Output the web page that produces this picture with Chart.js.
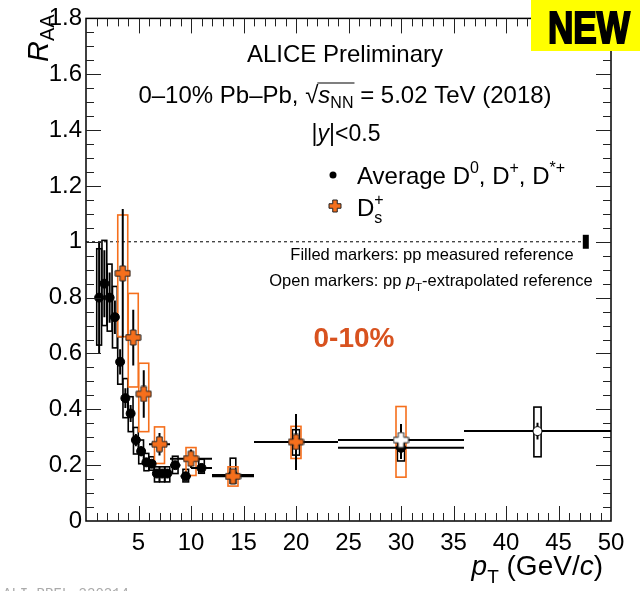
<!DOCTYPE html>
<html>
<head>
<meta charset="utf-8">
<script src="https://cdn.jsdelivr.net/npm/chart.js@4.4.0/dist/chart.umd.min.js"></script>
<style>
  html, body { margin: 0; padding: 0; background: #fff; }
  canvas { display: block; }
</style>
</head>
<body>
<canvas id="raa" width="640" height="591"></canvas>
<script>
// Average D0, D+, D*+ : pT bins, R_AA, stat. errors, syst. boxes
const dPtLow  = [1, 1.5, 2, 2.5, 3, 3.5, 4, 4.5, 5, 5.5, 6, 6.5, 7, 7.5, 8, 9, 10, 12, 16, 24, 36];
const dPtHigh = [1.5, 2, 2.5, 3, 3.5, 4, 4.5, 5, 5.5, 6, 6.5, 7, 7.5, 8, 9, 10, 12, 16, 24, 36, 50];
const dRaa    = [0.80, 0.85, 0.80, 0.73, 0.57, 0.44, 0.385, 0.29, 0.25, 0.21, 0.205, 0.17, 0.17, 0.17, 0.20, 0.16, 0.19, 0.165, 0.283, 0.262, 0.322];
const dStat   = [0.20, 0.12, 0.09, 0.06, 0.045, 0.035, 0.03, 0.022, 0.018, 0.015, 0.015, 0.012, 0.012, 0.012, 0.014, 0.014, 0.016, 0.02, 0.04, 0.04, 0.03];
const dSystLo = [0.63, 0.70, 0.68, 0.62, 0.49, 0.37, 0.32, 0.24, 0.205, 0.18, 0.182, 0.14, 0.14, 0.14, 0.17, 0.14, 0.171, 0.135, 0.236, 0.215, 0.23];
const dSystHi = [0.975, 1.005, 0.92, 0.84, 0.66, 0.51, 0.445, 0.335, 0.29, 0.242, 0.23, 0.194, 0.194, 0.194, 0.232, 0.185, 0.221, 0.225, 0.327, 0.28, 0.408];
const dOpen   = [false, false, false, false, false, false, false, false, false, false, false, false, false, false, false, false, false, false, false, false, true];

// Ds+
const dsPtLow  = [3, 4, 5, 6, 8, 12, 16, 24];
const dsPtHigh = [4, 5, 6, 8, 12, 16, 24, 36];
const dsRaa    = [0.887, 0.657, 0.455, 0.275, 0.223, 0.16, 0.283, 0.29];
const dsStat   = [0.23, 0.10, 0.085, 0.04, 0.033, 0.025, 0.10, 0.057];
const dsSystLo = [0.66, 0.48, 0.32, 0.206, 0.163, 0.125, 0.224, 0.157];
const dsSystHi = [1.096, 0.815, 0.565, 0.337, 0.263, 0.194, 0.339, 0.41];
const dsOpen   = [false, false, false, false, false, false, false, true];

// normalisation uncertainty at unity
const normUnc = 0.025;

const xTickValues = [5, 10, 15, 20, 25, 30, 35, 40, 45, 50];
const yTickValues = [0, 0.2, 0.4, 0.6, 0.8, 1, 1.2, 1.4, 1.6, 1.8];

const FAMILY = "'Liberation Sans', Arial, Helvetica, sans-serif";
const ORANGE = '#f56f1c';

function plusMarker(fill, size) {
  const c = document.createElement('canvas');
  c.width = size; c.height = size;
  const g = c.getContext('2d');
  const m = size / 2, b = m - 1, a = size * 0.16;
  g.beginPath();
  g.moveTo(m - a, m - b); g.lineTo(m + a, m - b); g.lineTo(m + a, m - a); g.lineTo(m + b, m - a);
  g.lineTo(m + b, m + a); g.lineTo(m + a, m + a); g.lineTo(m + a, m + b); g.lineTo(m - a, m + b);
  g.lineTo(m - a, m + a); g.lineTo(m - b, m + a); g.lineTo(m - b, m - a); g.lineTo(m - a, m - a);
  g.closePath();
  g.fillStyle = fill; g.fill();
  g.strokeStyle = '#222'; g.lineWidth = 1; g.stroke();
  return c;
}

const dsFilled = plusMarker(ORANGE, 17);
const dsHollow = plusMarker('#fff', 17);
const dsLegend = plusMarker(ORANGE, 14);

const centres = (lo, hi) => lo.map((v, i) => (v + hi[i]) / 2);
const dPt = centres(dPtLow, dPtHigh);
const dsPt = centres(dsPtLow, dsPtHigh);

function font(p) {
  return (p.it ? 'italic ' : '') + (p.b ? 'bold ' : '') + p.s + 'px ' + FAMILY;
}

// draws a run of text pieces (sub/superscripts), returns x extents of each piece
function rich(ctx, x, y, parts, align) {
  const widths = parts.map(p => { ctx.font = font(p); return ctx.measureText(p.t).width; });
  let total = 0;
  parts.forEach((p, i) => { if (!p.keep) total += widths[i]; });
  let cx = align === 'center' ? x - total / 2 : align === 'right' ? x - total : x;
  ctx.textAlign = 'left';
  ctx.textBaseline = 'alphabetic';
  const pos = [];
  parts.forEach((p, i) => {
    ctx.font = font(p);
    ctx.fillStyle = p.c || '#000';
    ctx.fillText(p.t, cx, y + (p.dy || 0));
    pos.push([cx, cx + widths[i]]);
    if (!p.keep) cx += widths[i];
  });
  return pos;
}

function boxHalf(pt, isDs) {
  if (isDs) return 5;
  if (pt < 8) return 2.4;
  if (pt < 16) return 2.8;
  return 3.6;
}

function drawBoxes(c, pts, lo, hi, color, isDs) {
  const { ctx, scales: { x, y } } = c;
  ctx.strokeStyle = color;
  ctx.lineWidth = 1.6;
  pts.forEach((pt, i) => {
    const px = x.getPixelForValue(pt);
    const h = boxHalf(pt, isDs);
    const top = y.getPixelForValue(hi[i]);
    const bot = y.getPixelForValue(lo[i]);
    ctx.strokeRect(px - h, top, 2 * h, bot - top);
  });
}

function drawErrors(c, pts, ptLo, ptHi, raa, stat) {
  const { ctx, scales: { x, y } } = c;
  ctx.strokeStyle = '#000';
  ctx.lineWidth = 2;
  ctx.beginPath();
  pts.forEach((pt, i) => {
    const px = x.getPixelForValue(pt);
    const py = y.getPixelForValue(raa[i]);
    ctx.moveTo(px, y.getPixelForValue(raa[i] - stat[i]));
    ctx.lineTo(px, y.getPixelForValue(raa[i] + stat[i]));
    ctx.moveTo(x.getPixelForValue(ptLo[i]), py);
    ctx.lineTo(x.getPixelForValue(ptHi[i]), py);
  });
  ctx.stroke();
}

const uncertainties = {
  id: 'uncertainties',
  beforeDatasetsDraw(c) {
    const { ctx, chartArea: a, scales: { x, y } } = c;
    ctx.save();
    ctx.beginPath();
    ctx.rect(a.left, a.top, a.right - a.left, a.bottom - a.top);
    ctx.clip();

    // unity reference line and normalisation box
    const py1 = y.getPixelForValue(1);
    ctx.strokeStyle = '#000';
    ctx.lineWidth = 1;
    ctx.setLineDash([3, 3]);
    ctx.beginPath();
    ctx.moveTo(a.left, py1);
    ctx.lineTo(x.getPixelForValue(47.3), py1);
    ctx.stroke();
    ctx.setLineDash([]);
    const nTop = y.getPixelForValue(1 + normUnc);
    const nBot = y.getPixelForValue(1 - normUnc);
    ctx.fillStyle = '#000';
    ctx.fillRect(x.getPixelForValue(47.6) - 3, nTop, 6, nBot - nTop);

    drawBoxes(c, dPt, dSystLo, dSystHi, '#000', false);
    drawBoxes(c, dsPt, dsSystLo, dsSystHi, ORANGE, true);
    drawErrors(c, dPt, dPtLow, dPtHigh, dRaa, dStat);
    drawErrors(c, dsPt, dsPtLow, dsPtHigh, dsRaa, dsStat);
    ctx.restore();
  },
  afterDraw(c) {
    const { ctx, chartArea: a, scales: { x, y } } = c;
    ctx.save();

    // frame with inward ticks on all sides
    ctx.strokeStyle = '#000';
    ctx.lineWidth = 1.5;
    ctx.strokeRect(a.left, a.top, a.right - a.left, a.bottom - a.top);
    ctx.strokeStyle = '#222';
    ctx.lineWidth = 1;
    ctx.beginPath();
    for (let v = 1; v < 50; v++) {
      const px = Math.round(x.getPixelForValue(v)) + 0.5;
      const len = v % 5 === 0 ? 15 : 8;
      ctx.moveTo(px, a.bottom); ctx.lineTo(px, a.bottom - len);
      ctx.moveTo(px, a.top); ctx.lineTo(px, a.top + len);
    }
    for (let k = 1; k < 36; k++) {
      const py = Math.round(y.getPixelForValue(k * 0.05)) + 0.5;
      const len = k % 4 === 0 ? 15 : 8;
      ctx.moveTo(a.left, py); ctx.lineTo(a.left + len, py);
      ctx.moveTo(a.right, py); ctx.lineTo(a.right - len, py);
    }
    ctx.stroke();

    // axis titles
    ctx.save();
    ctx.translate(48, 62);
    ctx.rotate(-Math.PI / 2);
    rich(ctx, 0, 0, [{ t: 'R', s: 29, it: true }, { t: 'AA', s: 20, dy: 6 }], 'left');
    ctx.restore();
    rich(ctx, 603, 575, [
      { t: 'p', s: 28, it: true }, { t: 'T', s: 19, dy: 8 },
      { t: ' (GeV/', s: 28 }, { t: 'c', s: 28, it: true }, { t: ')', s: 28 }
    ], 'right');

    // header
    rich(ctx, 345, 62, [{ t: 'ALICE Preliminary', s: 24 }], 'center');
    const l2 = rich(ctx, 345, 103, [
      { t: '0–10% Pb–Pb, ', s: 24 },
      { t: '√', s: 24 },
      { t: 's', s: 24, it: true },
      { t: 'NN', s: 16, dy: 5 },
      { t: ' = 5.02 TeV (2018)', s: 24 }
    ], 'center');
    ctx.strokeStyle = '#000';
    ctx.lineWidth = 1.2;
    ctx.beginPath();
    ctx.moveTo(l2[1][1] - 1, 83);
    ctx.lineTo(l2[3][1] + 1, 83);
    ctx.stroke();
    rich(ctx, 346, 141, [{ t: '|', s: 23 }, { t: 'y', s: 23, it: true }, { t: '|<0.5', s: 23 }], 'center');

    // legend
    ctx.fillStyle = '#000';
    ctx.beginPath();
    ctx.arc(333, 175, 3.5, 0, Math.PI * 2);
    ctx.fill();
    rich(ctx, 357, 184, [
      { t: 'Average D', s: 24 }, { t: '0', s: 16, dy: -11 },
      { t: ', D', s: 24 }, { t: '+', s: 16, dy: -11 },
      { t: ', D', s: 24 }, { t: '*+', s: 16, dy: -11 }
    ], 'left');
    ctx.drawImage(dsLegend, 335 - 7, 206 - 7);
    rich(ctx, 357, 216, [{ t: 'D', s: 24 }, { t: '+', s: 16, dy: -11, keep: true }, { t: 's', s: 16, dy: 7 }], 'left');

    rich(ctx, 432, 260, [{ t: 'Filled markers: pp measured reference', s: 16.5 }], 'center');
    rich(ctx, 431, 286, [
      { t: 'Open markers: pp ', s: 16.5 }, { t: 'p', s: 16.5, it: true },
      { t: 'T', s: 11.5, dy: 5 }, { t: '-extrapolated reference', s: 16.5 }
    ], 'center');

    rich(ctx, 354, 347, [{ t: '0-10%', s: 28, b: true, c: '#d8521f' }], 'center');

    // badge
    ctx.fillStyle = '#ffff00';
    ctx.fillRect(531, 0, 109, 51);
    ctx.save();
    ctx.translate(589, 43);
    ctx.scale(0.8, 1);
    ctx.font = 'bold 44px ' + FAMILY;
    ctx.textAlign = 'center';
    ctx.fillStyle = '#000';
    ctx.strokeStyle = '#000';
    ctx.lineWidth = 2;
    ctx.fillText('NEW', 0, 0);
    ctx.strokeText('NEW', 0, 0);
    ctx.restore();

    ctx.font = "14px 'Liberation Mono', monospace";
    ctx.fillStyle = '#aaa';
    ctx.textAlign = 'left';
    ctx.fillText('ALI-PREL-330314', 3, 598);
    ctx.restore();
  }
};

const tickFont = { family: FAMILY, size: 24 };

new Chart(document.getElementById('raa'), {
  type: 'scatter',
  data: {
    datasets: [
      {
        label: 'Ds+',
        order: 0,
        data: dsPt.map((pt, i) => ({ x: pt, y: dsRaa[i] })),
        pointStyle: dsOpen.map(o => (o ? dsHollow : dsFilled)),
        pointRadius: 8
      },
      {
        label: 'Average D0, D+, D*+',
        order: 1,
        data: dPt.map((pt, i) => ({ x: pt, y: dRaa[i] })),
        pointStyle: 'circle',
        pointRadius: 4.5,
        pointBackgroundColor: dOpen.map(o => (o ? '#fff' : '#000')),
        pointBorderColor: '#000',
        pointBorderWidth: 1
      }
    ]
  },
  options: {
    responsive: false,
    animation: false,
    events: [],
    layout: { padding: { top: 17, right: 29, left: 0, bottom: 0 } },
    plugins: { legend: { display: false }, tooltip: { enabled: false } },
    scales: {
      x: {
        type: 'linear',
        min: 0,
        max: 50,
        grid: { display: false, drawTicks: false },
        border: { display: false },
        afterBuildTicks: s => { s.ticks = xTickValues.map(v => ({ value: v })); },
        afterFit: s => { s.height = 70; },
        ticks: { font: tickFont, color: '#000', padding: 8, maxRotation: 0, autoSkip: false, callback: v => String(v) }
      },
      y: {
        type: 'linear',
        min: 0,
        max: 1.8,
        grid: { display: false, drawTicks: false },
        border: { display: false },
        afterBuildTicks: s => { s.ticks = yTickValues.map(v => ({ value: v })); },
        afterFit: s => { s.width = 86; },
        ticks: { font: tickFont, color: '#000', padding: 4, autoSkip: false, callback: v => String(+v.toFixed(2)) }
      }
    }
  },
  plugins: [uncertainties]
});
</script>
</body>
</html>
